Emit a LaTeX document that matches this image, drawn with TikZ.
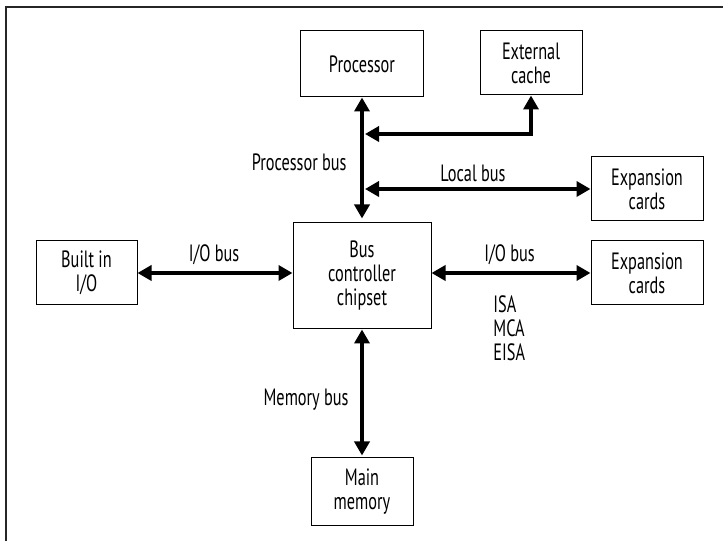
\documentclass[tikz,border=0pt]{standalone}
\usepackage{fontspec}
\setmainfont{PT Sans}[FakeStretch=0.69]
\usetikzlibrary{arrows.meta,positioning}

\begin{document}
\begin{tikzpicture}[
      x=0.5pt, y=0.5pt,
      >={Triangle[length=7pt,width=7.5pt]},
      unit/.style={draw, line width=0.5pt, minimum width=51pt, minimum height=32pt,
                   inner sep=2pt, align=center, font=\fontsize{11.8}{12}\selectfont},
      bus/.style={<->, line width=2pt},
      lbl/.style={inner sep=0pt, align=left, font=\fontsize{11.8}{12}\selectfont}
  ]
      \useasboundingbox (0,0) rectangle (723,541);

      % --- FRAME ---
      \draw[line width=1pt, black!85] (6,0) |- (723,533.5);

      % --- UNITS ---
      \node[unit, minimum width=61.5pt, minimum height=33pt] (proc) at (362,477) {Processor};
      \node[unit] (cache) at (531,478) {External\\cache};
      \node[unit, minimum width=56pt] (exp1) at (647,352) {Expansion\\cards};
      \node[unit, minimum width=69pt, minimum height=53pt] (ctrl) at (362,265) {Bus\\controller\\chipset};
      \node[unit, minimum width=56pt] (exp2) at (647,268) {Expansion\\cards};
      \node[unit, minimum width=50.5pt] (io) at (86.5,268) {Built in\\I/O};
      \node[unit, minimum height=33.5pt] (mem) at (362,49.5) {Main\\memory};

      \coordinate (j1) at (365,407);
      \coordinate (j2) at (365,352);

      % --- BUSES ---
      \draw[bus, shorten >=2pt] (proc.south) -- (ctrl.north);
      \draw[bus] (j1) -| (cache.south);
      \draw[bus] (j2) -- (exp1.west);
      \draw[bus] (io.east) -- (io.east -| ctrl.west);
      \draw[bus] (ctrl.east |- exp2.west) -- (exp2.west);
      \draw[bus, shorten >=1pt] (ctrl.south) -- (mem.north);

      % --- LABELS ---
      \node[lbl, anchor=east] (lproc) at (347,379) {Processor bus};
      \node[lbl] (llocal) at (473,368) {Local bus};
      \node[lbl] (lio1) at (214,286) {I/O bus};
      \node[lbl] (lio2) at (509.5,286) {I/O bus};
      \node[lbl, anchor=west] (ltypes) at (493,213) {ISA\\MCA\\EISA};
      \node[lbl, anchor=east] (lmem) at (349,141) {Memory bus};

  \end{tikzpicture}
\end{document}
